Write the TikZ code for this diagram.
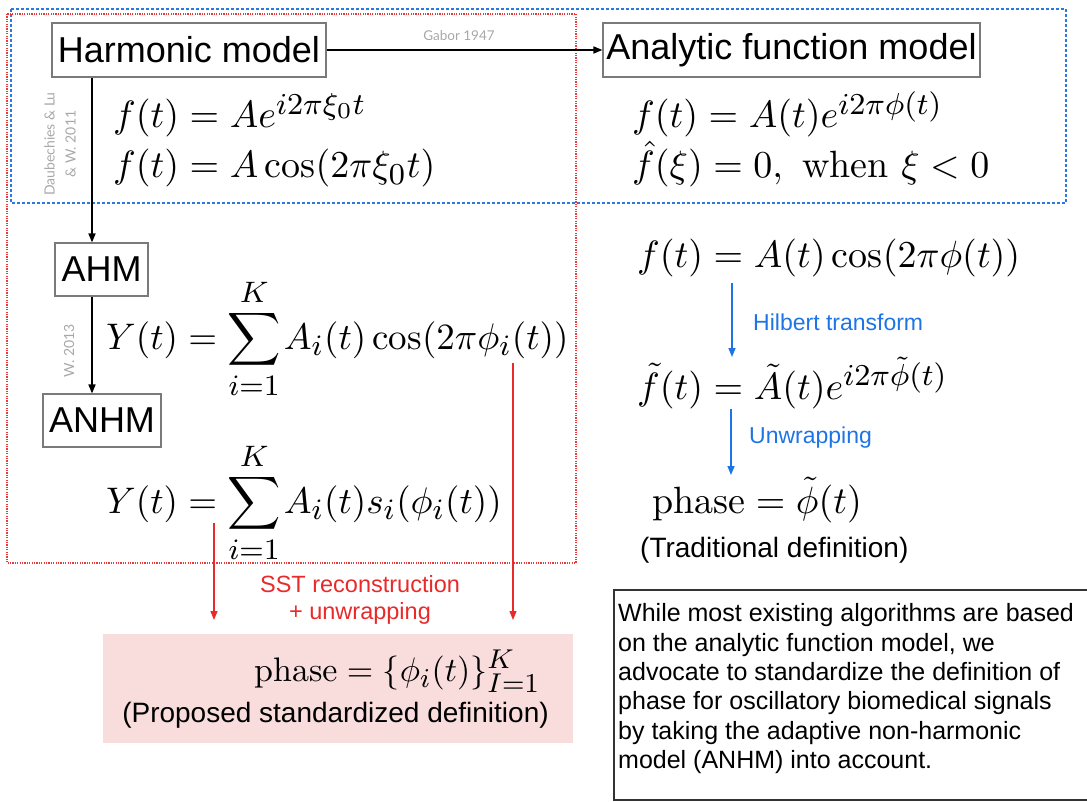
\documentclass[tikz,border=0pt]{standalone}
\usepackage{amsmath}
\usepackage{graphicx}
\usepackage{fontspec}
\setsansfont{Liberation Sans}
\newfontfamily\latofont{Lato}
\DeclareMathSizes{10}{10}{8}{6}
\usetikzlibrary{arrows.meta}
\definecolor{bluedot}{HTML}{2A78E0}
\definecolor{reddot}{HTML}{E8383A}
\definecolor{bluearr}{HTML}{1E74E6}
\definecolor{redarr}{HTML}{E82A2A}
\definecolor{pinkfill}{HTML}{F9DCDC}
\definecolor{boxgray}{HTML}{7A7A7A}
\definecolor{labgray}{HTML}{A8A8A8}
\newcommand\eqbig[2][3.8]{\scalebox{#1}{$#2$}}
\begin{document}
\begin{tikzpicture}[x=1pt,y=-1pt,
  modelbox/.style={draw=boxgray,line width=1.1pt,inner sep=0pt,font=\sffamily\fontsize{36}{40}\selectfont},
  eqn/.style={anchor=base west,inner sep=0pt},
  blk/.style={line width=1.6pt,-{Triangle[length=9pt,width=7pt]}},
  bluearrow/.style={draw=bluearr,line width=1.5pt,-{Triangle[length=9pt,width=7pt]}},
  redarrow/.style={draw=redarr,line width=1.3pt,-{Triangle[length=9pt,width=7pt]}},
  graylab/.style={text=labgray,font=\latofont\fontsize{13.5}{15}\selectfont,inner sep=0pt},
  bluelab/.style={text=bluearr,font=\sffamily\fontsize{23}{26}\selectfont,inner sep=0pt,anchor=west},
  redlab/.style={text=redarr,font=\sffamily\fontsize{23.5}{26}\selectfont,inner sep=0pt},
  deflab/.style={font=\sffamily\fontsize{28}{32}\selectfont,inner sep=0pt}
]
\useasboundingbox (0,0) rectangle (1087,802);

% dotted frames
\draw[bluedot,line width=1.4pt,dash pattern=on 3pt off 2pt] (11,9) rectangle (1066,203);
\draw[reddot,line width=1.2pt,dash pattern=on 1.2pt off 1.2pt] (7,14) rectangle (576,563);

% model boxes
\node[modelbox,minimum width=274pt,minimum height=54pt] (hm) at (189,50) {Harmonic model};
\node[modelbox,minimum width=377pt,minimum height=54pt] (afm) at (791.5,50) {Analytic function model};
\node[modelbox,minimum width=93pt,minimum height=53pt] (ahm) at (101.5,269.5) {AHM};
\node[modelbox,minimum width=118pt,minimum height=53pt] (anhm) at (102,420.5) {ANHM};

% connectors between models
\draw[blk] (hm.east) -- (afm.west);
\node[graylab] (gabor) at (459,36) {Gabor 1947};
\coordinate (vx) at (92,0);
\draw[blk] (hm.south -| vx) -- (ahm.north -| vx);
\draw[blk] (ahm.south -| vx) -- (anhm.north -| vx);
\node[graylab,rotate=90,align=center,font=\latofont\fontsize{14}{21}\selectfont] (daub) at (60,144) {Daubechies \& Lu\\\& W. 2011};
\node[graylab,rotate=90,font=\latofont\fontsize{14}{16}\selectfont] (w13) at (69,351) {W. 2013};

% harmonic model equations
\node[eqn] (e1) at (113,128) {\eqbig{f(t)=Ae^{i2\pi\xi_0 t}}};
\node[eqn] (e2) at (113,178) {\eqbig{f(t)=A\cos(2\pi\xi_0 t)}};

% analytic function model equations
\node[eqn] (e3) at (632,128) {\eqbig{f(t)=A(t)e^{i2\pi\phi(t)}}};
\node[eqn] (e4) at (632,178) {\eqbig{\hat{f}(\xi)=0,\ \text{when}\ \xi<0}};

% AHM / ANHM equations
\node[eqn] (y1) at (106,349) {\eqbig[3.7]{Y(t)=\displaystyle\sum_{i=1}^{K}\mkern-1.5mu A_i(t)\cos(2\pi\phi_i(t))}};
\node[eqn] (y2) at (106,513) {\eqbig[3.7]{Y(t)=\displaystyle\sum_{i=1}^{K}\mkern-1.5mu A_i(t)s_i(\phi_i(t))}};

% traditional route
\node[eqn] (r1) at (637,268) {\eqbig{f(t)=A(t)\cos(2\pi\phi(t))}};
\node[eqn] (r2) at (637,399) {\eqbig{\tilde{f}(t)=\tilde{A}(t)e^{i2\pi\tilde{\phi}(t)}}};
\node[eqn] (r3) at (652,513) {\eqbig{\text{phase}=\tilde{\phi}(t)}};
\node[deflab,anchor=west] (trad) at (640,550) {(Traditional definition)};
\coordinate (b1s) at (732,283);
\coordinate (b1e) at (732,357);
\coordinate (b2s) at (731,409);
\coordinate (b2e) at (731,475);
\draw[bluearrow] (b1s) -- (b1e);
\draw[bluearrow] (b2s) -- (b2e);
\node[bluelab] (hil) at (753,322) {Hilbert transform};
\node[bluelab] (unw) at (749,438) {Unwrapping};

% proposed route
\fill[pinkfill] (103,634) rectangle (573,743);
\node[eqn] (p1) at (254,681) {\eqbig[3.4]{\text{phase}=\{\phi_i(t)\}_{I=1}^{K}}};
\node[deflab] (prop) at (335.5,715) {(Proposed standardized definition)};
\coordinate (r1s) at (214,523);
\coordinate (r1e) at (214,620);
\coordinate (r2s) at (513,363);
\coordinate (r2e) at (513,620);
\draw[redarrow] (r1s) -- (r1e);
\draw[redarrow] (r2s) -- (r2e);
\node[redlab,align=center,font=\sffamily\fontsize{23.5}{26.5}\selectfont] (sst) at (360,600) {SST reconstruction\\+ unwrapping};

% comment box
\draw[black!80,line width=1.2pt] (1100,590) -- (614,590) -- (614,800) -- (1100,800);
\node[anchor=north west,inner sep=0pt,align=left,font=\sffamily\fontsize{25}{29.3}\selectfont] (note) at (618,603.5) {While most existing algorithms are based\\on the analytic function model, we\\advocate to standardize the definition of\\phase for oscillatory biomedical signals\\by taking the adaptive non-harmonic\\model (ANHM) into account.};
\end{tikzpicture}
\end{document}
